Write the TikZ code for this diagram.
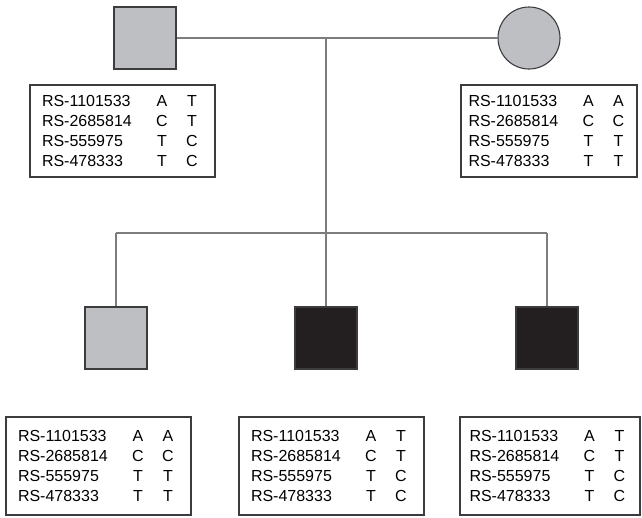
\documentclass[tikz,border=0pt]{standalone}
\usepackage{fontspec}
\setmainfont{Liberation Sans}
\usepackage{xcolor}
\usetikzlibrary{positioning, shapes.geometric}

\definecolor{carrier}{RGB}{190,191,194}
\definecolor{affected}{RGB}{35,31,32}
\definecolor{pedline}{RGB}{125,125,128}
\definecolor{boxline}{RGB}{60,60,62}

% one row of a genotype table
\newcommand{\snp}[3]{\hspace*{7pt}\makebox[108pt][l]{#1}\makebox[24pt]{#2}\makebox[36pt]{#3}}

\begin{document}
\begin{tikzpicture}[x=1pt, y=-1pt]
            % Block styles
            \tikzstyle{male} = [rectangle, draw=boxline, line width=1.1pt, minimum size=62pt, inner sep=0pt]
            \tikzstyle{female} = [circle, draw=boxline, line width=1.1pt, minimum size=62pt, inner sep=0pt]
            \tikzstyle{genobox} = [rectangle, draw=boxline, line width=1.7pt, inner sep=0pt, align=left, font=\fontsize{16}{19.8}\selectfont]
            \tikzstyle{pedigree} = [draw=pedline, line width=1.3pt]
            \useasboundingbox (0,0) rectangle (642,517);
            % Parents
            \node[male, fill=carrier] (father) at (145,38) {};
            \node[female, fill=carrier] (mother) at (529,38) {};
            \node[genobox, minimum width=185pt, minimum height=92pt] (fathergeno) at (122.5,131)
                {\snp{RS-1101533}{A}{T}\\ \snp{RS-2685814}{C}{T}\\ \snp{RS-555975}{T}{C}\\ \snp{RS-478333}{T}{C}};
            \node[genobox, minimum width=176pt, minimum height=92pt] (mothergeno) at (549,131)
                {\snp{RS-1101533}{A}{A}\\ \snp{RS-2685814}{C}{C}\\ \snp{RS-555975}{T}{T}\\ \snp{RS-478333}{T}{T}};
            % Children
            \node[male, fill=carrier] (son1) at (116,338) {};
            \node[male, fill=affected] (son2) at (326,338) {};
            \node[male, fill=affected] (son3) at (547,338) {};
            \node[genobox, minimum width=185pt, minimum height=98pt] (son1geno) at (98.5,466)
                {\snp{RS-1101533}{A}{A}\\ \snp{RS-2685814}{C}{C}\\ \snp{RS-555975}{T}{T}\\ \snp{RS-478333}{T}{T}};
            \node[genobox, minimum width=185pt, minimum height=98pt] (son2geno) at (331.5,466)
                {\snp{RS-1101533}{A}{T}\\ \snp{RS-2685814}{C}{T}\\ \snp{RS-555975}{T}{C}\\ \snp{RS-478333}{T}{C}};
            \node[genobox, minimum width=180pt, minimum height=98pt] (son3geno) at (550,466)
                {\snp{RS-1101533}{A}{T}\\ \snp{RS-2685814}{C}{T}\\ \snp{RS-555975}{T}{C}\\ \snp{RS-478333}{T}{C}};
            % Connections
            \coordinate (marriage) at (326,38);
            \coordinate (sibmid) at (326,233);
            \coordinate (sibleft) at (116,233);
            \coordinate (sibright) at (547,233);
            \draw[pedigree] (father) -- (mother);
            \draw[pedigree] (marriage) -- (sibmid);
            \draw[pedigree] (sibleft) -- (sibright);
            \draw[pedigree] (sibleft) -- (son1);
            \draw[pedigree] (sibmid) -- (son2);
            \draw[pedigree] (sibright) -- (son3);
        \end{tikzpicture}
\end{document}
